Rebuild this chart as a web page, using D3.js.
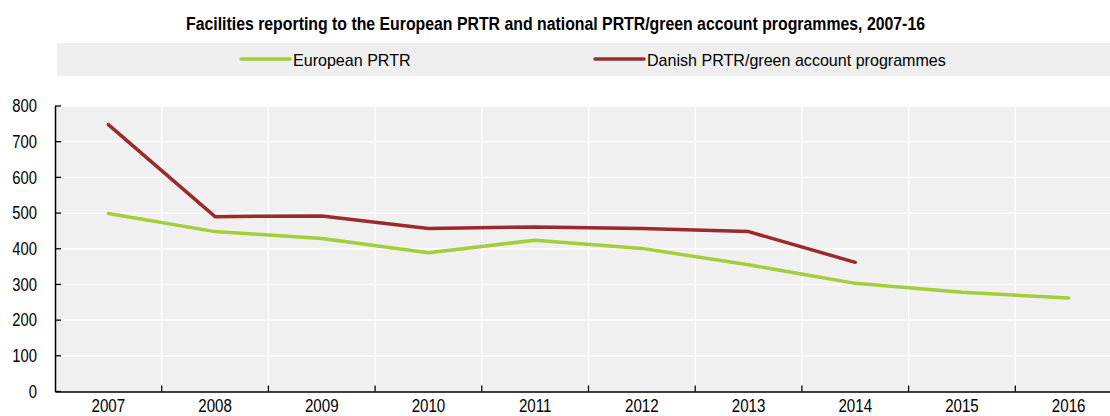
<!DOCTYPE html>
<html>
<head>
<meta charset="utf-8">
<script src="https://cdn.jsdelivr.net/npm/d3@7"></script>
<style>
  html, body { margin: 0; padding: 0; background: #fff; }
  svg { display: block; }
</style>
</head>
<body>
<svg id="chart" width="1110" height="416"></svg>
<script>
// Reporting years
const years = ["2007", "2008", "2009", "2010", "2011", "2012", "2013", "2014", "2015", "2016"];
// Number of facilities reporting to the European PRTR
const europeanPRTR = [499, 448, 429, 389, 424, 401, 355, 303, 278, 262];
// Number of facilities in the Danish PRTR/green account programmes (no data after 2014)
const danishPRTR = [748, 490, 492, 457, 461, 457, 448, 362, null, null];
// Value-axis ticks
const yTicks = [0, 100, 200, 300, 400, 500, 600, 700, 800];
const seriesNames = ["European PRTR", "Danish PRTR/green account programmes"];
const seriesColors = ["#a5cd39", "#9b2a2f"];

const svg = d3.select("#chart");
const font = "'Liberation Sans', Arial, sans-serif";

// Squeeze a text horizontally to a narrower, condensed look
function condense(sel, factor) {
  sel.each(function () {
    const w = this.getComputedTextLength();
    d3.select(this).attr("textLength", w * factor).attr("lengthAdjust", "spacingAndGlyphs");
  });
}

const plot = { left: 55, right: 1122, top: 106, bottom: 391.5 };

const x = d3.scaleBand().domain(years).range([plot.left, plot.right]);
const y = d3.scaleLinear().domain([0, 800]).range([plot.bottom, plot.top]);

// Title
svg.append("text")
  .attr("x", 555.5).attr("y", 30)
  .attr("text-anchor", "middle")
  .style("font-family", font)
  .style("font-weight", "bold")
  .style("font-size", "18px")
  .attr("fill", "#000")
  .text("Facilities reporting to the European PRTR and national PRTR/green account programmes, 2007-16")
  .attr("textLength", 739).attr("lengthAdjust", "spacingAndGlyphs");

// Legend band
svg.append("rect")
  .attr("x", 57).attr("y", 43).attr("width", 1070).attr("height", 33)
  .attr("fill", "#efefef");

const legendItems = [
  { name: seriesNames[0], color: seriesColors[0], x0: 241 },
  { name: seriesNames[1], color: seriesColors[1], x0: 595 }
];
const lg = svg.append("g").selectAll("g").data(legendItems).join("g");
lg.append("line")
  .attr("x1", d => d.x0).attr("x2", d => d.x0 + 49)
  .attr("y1", 59).attr("y2", 59)
  .attr("stroke", d => d.color).attr("stroke-width", 3.5)
  .attr("stroke-linecap", "round");
const lt = lg.append("text")
  .attr("x", d => d.x0 + 52).attr("y", 65.5)
  .style("font-family", font)
  .style("font-size", "17px")
  .attr("fill", "#000")
  .text(d => d.name);
condense(lt, 0.945);

// Plot background
svg.append("rect")
  .attr("x", plot.left).attr("y", plot.top)
  .attr("width", plot.right - plot.left).attr("height", plot.bottom - plot.top)
  .attr("fill", "#f0f0f0");

// Horizontal gridlines
svg.append("g").selectAll("line").data(yTicks.filter(d => d > 0)).join("line")
  .attr("x1", plot.left).attr("x2", plot.right)
  .attr("y1", d => y(d)).attr("y2", d => y(d))
  .attr("stroke", "#fff").attr("stroke-width", 1.3);

// Vertical gridlines at category boundaries
const boundaries = years.slice(1).map(d => x(d));
svg.append("g").selectAll("line").data(boundaries).join("line")
  .attr("x1", d => d).attr("x2", d => d)
  .attr("y1", plot.top).attr("y2", plot.bottom)
  .attr("stroke", "#fff").attr("stroke-width", 1.3);

// Y axis
const yAxis = svg.append("g")
  .attr("transform", `translate(${plot.left},0)`)
  .call(d3.axisLeft(y).tickValues(yTicks).tickSize(0).tickPadding(18));
yAxis.select(".domain").attr("stroke", "#000").attr("stroke-width", 1.5);
const yt = yAxis.selectAll("text")
  .style("font-family", font).style("font-size", "18px").attr("fill", "#000");
condense(yt, 0.82);
// inward tick marks
svg.append("g").selectAll("line").data(yTicks).join("line")
  .attr("x1", plot.left).attr("x2", plot.left + 6)
  .attr("y1", d => y(d)).attr("y2", d => y(d))
  .attr("stroke", "#000").attr("stroke-width", 1.3);

// X axis
const xAxis = svg.append("g")
  .attr("transform", `translate(0,${plot.bottom})`)
  .call(d3.axisBottom(x).tickSize(0).tickPadding(8));
xAxis.select(".domain").attr("stroke", "#000").attr("stroke-width", 1.5);
const xt = xAxis.selectAll("text")
  .style("font-family", font).style("font-size", "18px").attr("fill", "#000");
condense(xt, 0.84);
svg.append("g").selectAll("line").data(boundaries).join("line")
  .attr("x1", d => d).attr("x2", d => d)
  .attr("y1", plot.bottom).attr("y2", plot.bottom - 6)
  .attr("stroke", "#000").attr("stroke-width", 1.3);

// Series lines
const line = d3.line()
  .defined(d => d.v != null)
  .x(d => x(d.year) + x.bandwidth() / 2)
  .y(d => y(d.v));

[europeanPRTR, danishPRTR].forEach((vals, i) => {
  svg.append("path")
    .datum(years.map((yr, j) => ({ year: yr, v: vals[j] })))
    .attr("fill", "none")
    .attr("stroke", seriesColors[i])
    .attr("stroke-width", 3.5)
    .attr("stroke-linejoin", "round")
    .attr("stroke-linecap", "round")
    .attr("d", line);
});
</script>
</body>
</html>
